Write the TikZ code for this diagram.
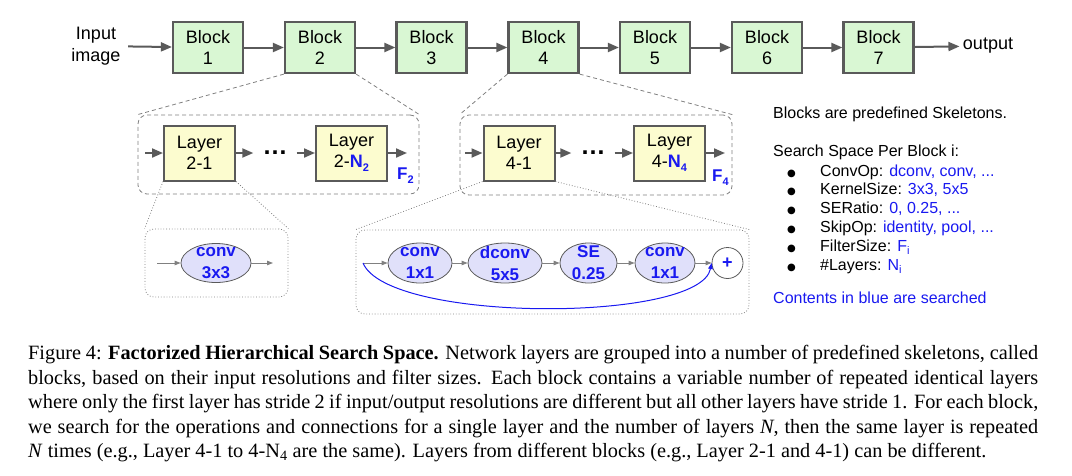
\documentclass[tikz,border=0pt]{standalone}
\usepackage{fontspec}
\setmainfont{Liberation Serif}
\newfontfamily\arialfont{Liberation Sans}
\newfontfamily\symfont{DejaVu Sans}
\usetikzlibrary{arrows.meta}
\usetikzlibrary{shapes.geometric}
\definecolor{blockgreen}{RGB}{217,247,211}
\definecolor{layeryellow}{RGB}{252,252,207}
\definecolor{oplilac}{RGB}{224,224,250}
\definecolor{darkline}{RGB}{90,90,90}
\definecolor{srchblue}{RGB}{25,25,240}
\newcommand{\lowidx}[1]{\raisebox{-0.45ex}{\fontsize{11}{11}\selectfont #1}}
\newcommand{\bulletitem}{\makebox[33pt][l]{\smash{\symfont\fontsize{10}{10}\selectfont ●}}}

\begin{document}
\begin{tikzpicture}[x=1pt,y=-1pt,>={Triangle[length=11pt,width=9pt]},
    block node/.style={rectangle,draw=darkline,fill=blockgreen,line width=2.2pt,minimum width=70pt,minimum height=51pt,align=center,font=\arialfont\fontsize{18}{21.5}\selectfont},
    layer node/.style={rectangle,draw=darkline,fill=layeryellow,line width=2pt,minimum width=71pt,minimum height=55pt,align=center,font=\arialfont\fontsize{18}{21}\selectfont},
    op node/.style={ellipse,draw=darkline,fill=oplilac,line width=0.8pt,inner xsep=0pt,inner ysep=-9pt,minimum height=40pt,align=center,text=srchblue,font=\arialfont\bfseries\fontsize{17}{22}\selectfont,execute at begin node=\rule{0pt}{20pt}},
    group node/.style={rectangle,draw=gray,rounded corners=9pt,line width=0.8pt,inner sep=0pt},
    dots node/.style={inner xsep=9pt,font=\arialfont\bfseries\fontsize{25}{25}\selectfont},
    flabel/.style={anchor=base west,inner sep=0pt,text=srchblue,font=\arialfont\bfseries\fontsize{17}{17}\selectfont},
    small arrow/.style={-{Triangle[length=6pt,width=4.5pt]},line width=1pt},
    txt/.style={anchor=base west,inner sep=0pt,font=\arialfont\fontsize{16}{19}\selectfont}]
  \useasboundingbox (0,0) rectangle (1072,475);

  % top row: the network of blocks
  \node[align=center,font=\arialfont\fontsize{18}{21.5}\selectfont] (inp) at (96,46) {Input\\image};
  \node[block node] (b1) at (208,47.5) {Block\\1};
  \node[block node] (b2) at (320,47.5) {Block\\2};
  \node[block node] (b3) at (431.5,47.5) {Block\\3};
  \node[block node] (b4) at (543.5,47.5) {Block\\4};
  \node[block node] (b5) at (655,47.5) {Block\\5};
  \node[block node] (b6) at (767,47.5) {Block\\6};
  \node[block node] (b7) at (878.5,47.5) {Block\\7};
  \node[font=\arialfont\fontsize{18}{21.5}\selectfont] (outp) at (988,46) {output};
  \path[->,line width=2pt,color=darkline] (inp) edge[shorten <=4pt] (b1);
  \path[->,line width=2pt,color=darkline] (b1) edge (b2);
  \path[->,line width=2pt,color=darkline] (b2) edge (b3);
  \path[->,line width=2pt,color=darkline] (b3) edge (b4);
  \path[->,line width=2pt,color=darkline] (b4) edge (b5);
  \path[->,line width=2pt,color=darkline] (b5) edge (b6);
  \path[->,line width=2pt,color=darkline] (b6) edge (b7);
  \path[->,line width=2pt,color=darkline] (b7) edge (outp);

  % middle row: layers inside block 2 and block 4
  \node[group node,dash pattern=on 4pt off 3pt,minimum width=281pt,minimum height=79pt] (grp2) at (278.5,154.5) {};
  \node[group node,dash pattern=on 4pt off 3pt,minimum width=272pt,minimum height=80pt] (grp4) at (596,155) {};
  \path[-,line width=0.8pt,color=gray,dash pattern=on 4pt off 3pt] (b2.south west) edge (grp2.north west);
  \path[-,line width=0.8pt,color=gray,dash pattern=on 4pt off 3pt] (b2.south east) edge (grp2.north east);
  \path[-,line width=0.8pt,color=gray,dash pattern=on 4pt off 3pt] (b4.south west) edge (grp4.north west);
  \path[-,line width=0.8pt,color=gray,dash pattern=on 4pt off 3pt] (b4.south east) edge (grp4.north east);

  \coordinate (in2) at (145,153);
  \node[layer node] (l21) at (199.5,153) {Layer\\2-1};
  \node[dots node] (dots2) at (275,153) {\dots};
  \node[layer node] (l2n) at (351.5,153) {Layer\\2-{\color{srchblue}\bfseries N\lowidx{2}}};
  \coordinate (out2) at (407,153);
  \node[flabel] (f2) at (397,179) {F\lowidx{2}};
  \path[->,line width=2pt,color=darkline] (in2) edge (l21);
  \path[->,line width=2pt,color=darkline] (l21) edge (dots2);
  \path[->,line width=2pt,color=darkline] (dots2) edge (l2n);
  \path[->,line width=2pt,color=darkline] (l2n) edge (out2);

  \coordinate (in4) at (465,153);
  \node[layer node] (l41) at (519,153) {Layer\\4-1};
  \node[dots node] (dots4) at (593,153) {\dots};
  \node[layer node] (l4n) at (669.5,153) {Layer\\4-{\color{srchblue}\bfseries N\lowidx{4}}};
  \coordinate (out4) at (725,153);
  \node[flabel] (f4) at (712,181) {F\lowidx{4}};
  \path[->,line width=2pt,color=darkline] (in4) edge (l41);
  \path[->,line width=2pt,color=darkline] (l41) edge (dots4);
  \path[->,line width=2pt,color=darkline] (dots4) edge (l4n);
  \path[->,line width=2pt,color=darkline] (l4n) edge (out4);

  % bottom row: operations inside layer 2-1 and layer 4-1
  \node[group node,dotted,minimum width=143pt,minimum height=68pt] (ops2) at (216.5,263) {};
  \node[group node,dotted,minimum width=393pt,minimum height=84pt] (ops4) at (552.5,272) {};
  \path[-,line width=0.8pt,color=gray,dotted] (l21.south west) edge (ops2.north west);
  \path[-,line width=0.8pt,color=gray,dotted] (l21.south east) edge (ops2.north east);
  \path[-,line width=0.8pt,color=gray,dotted] (l41.south west) edge (ops4.north west);
  \path[-,line width=0.8pt,color=gray,dotted] (l41.south east) edge (ops4.north east);

  \coordinate (in21) at (157,263);
  \node[op node,minimum width=70pt,minimum height=39pt] (op21) at (216,263) {conv\\3x3};
  \coordinate (out21) at (273,263);
  \path[small arrow,color=gray] (in21) edge (op21);
  \path[small arrow,color=gray] (op21) edge (out21);

  \coordinate (in41) at (363,263);
  \node[op node,minimum width=64pt] (op41) at (420,263) {conv\\1x1};
  \node[op node,minimum width=74pt] (op42) at (505,263) {dconv\\5x5};
  \node[op node,minimum width=57pt] (op43) at (588.5,263) {SE\\0.25};
  \node[op node,minimum width=60pt] (op44) at (665,263) {conv\\1x1};
  \node[circle,draw=darkline,line width=0.8pt,minimum size=31pt,inner sep=0pt,text=srchblue,font=\arialfont\bfseries\fontsize{18}{18}\selectfont] (plus) at (727.5,263) {+};
  \path[small arrow,color=gray] (in41) edge (op41);
  \path[small arrow,color=gray] (op41) edge (op42);
  \path[small arrow,color=gray] (op42) edge (op43);
  \path[small arrow,color=gray] (op43) edge (op44);
  \path[small arrow,color=gray] (op44) edge (plus);
  \draw[small arrow,color=srchblue] (in41) .. controls (388,323) and (700,323) .. (plus.west);

  % search space notes
  \node[txt] (note1) at (773,118) {Blocks are predefined Skeletons.};
  \node[txt] (note2) at (773,156) {Search Space Per Block i:};
  \node[txt] (item1) at (787,176) {\bulletitem ConvOp: \textcolor{srchblue}{dconv, conv, ...}};
  \node[txt] (item2) at (787,194.5) {\bulletitem KernelSize: \textcolor{srchblue}{3x3, 5x5}};
  \node[txt] (item3) at (787,213.5) {\bulletitem SERatio: \textcolor{srchblue}{0, 0.25, ...}};
  \node[txt] (item4) at (787,232.5) {\bulletitem SkipOp: \textcolor{srchblue}{identity, pool, ...}};
  \node[txt] (item5) at (787,251) {\bulletitem FilterSize: \textcolor{srchblue}{F\lowidx{i}}};
  \node[txt] (item6) at (787,270) {\bulletitem \#Layers: \textcolor{srchblue}{N\lowidx{i}}};
  \node[txt,text=srchblue] (note3) at (773,303.5) {Contents in blue are searched};

  % caption
  \node[anchor=north west,inner sep=0pt,text width=1010pt,align=justify,font=\fontsize{20.3}{24.5}\selectfont] (caption) at (28,345) {Figure 4: \textbf{Factorized Hierarchical Search Space.} Network layers are grouped into a number of predefined skeletons, called\linebreak
    blocks, based on their input resolutions and filter sizes. Each block contains a variable number of repeated identical layers\linebreak
    where only the first layer has stride 2 if input/output resolutions are different but all other layers have stride 1. For each block,\linebreak
    we search for the operations and connections for a single layer and the number of layers \textit{N}, then the same layer is repeated\linebreak
    \textit{N} times (e.g., Layer 4-1 to 4-N\textsubscript{4} are the same). Layers from different blocks (e.g., Layer 2-1 and 4-1) can be different.};
\end{tikzpicture}
\end{document}
